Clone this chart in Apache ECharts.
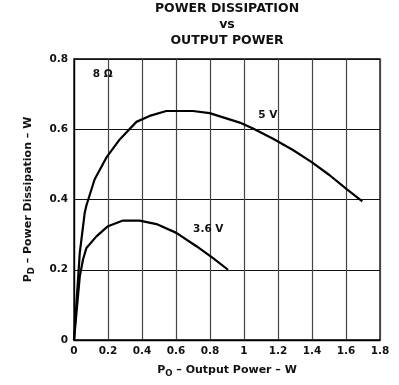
<!DOCTYPE html>
<html>
<head>
<meta charset="utf-8">
<script src="https://cdn.jsdelivr.net/npm/echarts@6/dist/echarts.min.js"></script>
<style>
  html, body { margin: 0; padding: 0; background: #fff; }
  #chart { width: 399px; height: 385px; }
</style>
</head>
<body>
<div id="chart"></div>
<script>
let xTicks = [0, 0.2, 0.4, 0.6, 0.8, 1, 1.2, 1.4, 1.6, 1.8]
let yTicks = [0, 0.2, 0.4, 0.6, 0.8]

// 5 V supply, 8 ohm load
let po5V = [0, 0.034, 0.063, 0.073, 0.121, 0.19, 0.269, 0.367, 0.445, 0.543, 0.70, 0.798, 0.975, 1.053, 1.171, 1.288, 1.396, 1.504, 1.602, 1.696]
let pd5V = [0, 0.248, 0.362, 0.383, 0.457, 0.519, 0.571, 0.621, 0.638, 0.652, 0.652, 0.646, 0.619, 0.602, 0.573, 0.541, 0.507, 0.469, 0.43, 0.395]

// 3.6 V supply
let po36V = [0, 0.034, 0.053, 0.073, 0.132, 0.2, 0.288, 0.386, 0.485, 0.602, 0.72, 0.818, 0.906]
let pd36V = [0, 0.181, 0.229, 0.262, 0.295, 0.324, 0.34, 0.34, 0.33, 0.305, 0.267, 0.233, 0.2]

let curveLabels = [
  { text: '8 Ω', x: 0.169, y: 0.757 },
  { text: '5 V', x: 1.14, y: 0.64 },
  { text: '3.6 V', x: 0.79, y: 0.316 },
]

let font = 'DejaVu Sans'

function pairs(xs, ys) {
  return xs.map((x, i) => [x, ys[i]])
}

let nameRich = {
  m: { fontFamily: font, fontSize: 11, fontWeight: 'bold', color: '#111' },
  s: { fontFamily: font, fontSize: 8.5, fontWeight: 'bold', color: '#111', padding: [6, 0, 0, 0] }
}

let chart = echarts.init(document.getElementById('chart'), null, { renderer: 'canvas' })

chart.setOption({
  animation: false,
  backgroundColor: '#fff',
  title: {
    text: 'POWER DISSIPATION\nvs\nOUTPUT POWER',
    left: 227,
    textAlign: 'center',
    top: 1,
    padding: 0,
    textStyle: { fontFamily: font, fontSize: 12.5, fontWeight: 'bold', color: '#111', lineHeight: 16 }
  },
  grid: { left: 74, right: 19, top: 59, bottom: 45, show: true, borderColor: '#000', borderWidth: 1.3 },
  xAxis: {
    type: 'value',
    min: xTicks[0],
    max: xTicks[xTicks.length - 1],
    interval: 0.2,
    axisLine: { show: true, lineStyle: { color: '#000', width: 1.3 } },
    axisTick: { show: false },
    axisLabel: { fontFamily: font, fontSize: 10.5, fontWeight: 'bold', color: '#111', margin: 6 },
    splitLine: { show: true, lineStyle: { color: '#444', width: 1.2 } },
    name: '{m|P}{s|O}{m| – Output Power – W}',
    nameLocation: 'middle',
    nameGap: 23,
    nameTextStyle: { rich: nameRich }
  },
  yAxis: {
    type: 'value',
    min: yTicks[0],
    max: yTicks[yTicks.length - 1],
    interval: 0.2,
    axisLine: { show: true, lineStyle: { color: '#000', width: 1.3 } },
    axisTick: { show: false },
    axisLabel: { fontFamily: font, fontSize: 10.5, fontWeight: 'bold', color: '#111', margin: 6 },
    splitLine: { show: true, lineStyle: { color: '#111', width: 1 } },
    name: '{m|P}{s|D}{m| – Power Dissipation – W}',
    nameLocation: 'middle',
    nameGap: 38,
    nameTextStyle: { rich: nameRich }
  },
  series: [
    {
      name: '5 V',
      type: 'line',
      data: pairs(po5V, pd5V),
      showSymbol: false,
      lineStyle: { color: '#000', width: 2.2 },
      markPoint: {
        symbol: 'rect',
        symbolSize: 0,
        label: { show: true, position: 'inside', fontFamily: font, fontSize: 10.5, fontWeight: 'bold', color: '#111', formatter: (p) => p.name },
        data: curveLabels.map((l) => ({ name: l.text, coord: [l.x, l.y] }))
      }
    },
    {
      name: '3.6 V',
      type: 'line',
      data: pairs(po36V, pd36V),
      showSymbol: false,
      lineStyle: { color: '#000', width: 2.2 }
    }
  ]
})
</script>
</body>
</html>
